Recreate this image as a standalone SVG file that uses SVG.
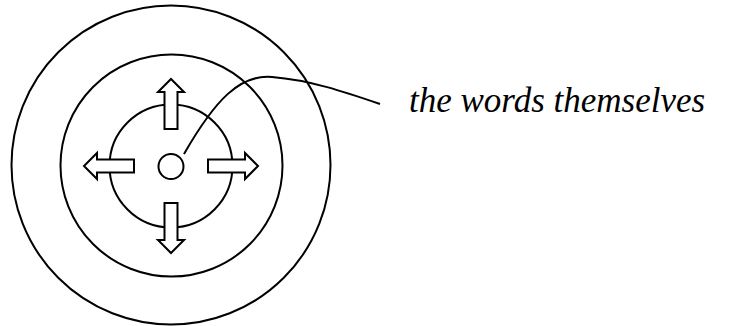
<svg xmlns="http://www.w3.org/2000/svg" width="730" height="326" viewBox="0 0 730 326">
<defs>
<path id="arw" fill="#fff" stroke="#000" stroke-width="2" d="M-6.5,-37 L-6.5,-74 L-13,-74 L0,-87 L13,-74 L6.5,-74 L6.5,-37 Z"/>
</defs>
<rect width="730" height="326" fill="#fff"/>
<g fill="none" stroke="#000" stroke-width="2">
<g id="outer"><circle cx="171" cy="165" r="159.5"/></g>
<g id="middle"><circle cx="171.5" cy="165.5" r="111"/></g>
<g id="inner"><circle cx="171" cy="166" r="61.5"/></g>
</g>
<g id="arrows">
<use href="#arw" transform="translate(171,166)"/>
<use href="#arw" transform="translate(171,166) rotate(90)"/>
<use href="#arw" transform="translate(171,166) rotate(180)"/>
<use href="#arw" transform="translate(171,166) rotate(-90)"/>
</g>
<g id="core" fill="none" stroke="#000" stroke-width="2"><circle cx="171" cy="166.5" r="12.5"/></g>
<g id="connectors" fill="none" stroke="#000" stroke-width="2"><path d="M184,154 C215,100 240,74 272,77 C310,80 345,92 380,104"/></g>
<g id="label"><text x="409" y="112" font-family="Liberation Serif, serif" font-style="italic" font-size="35" fill="#000">the words themselves</text></g>
</svg>
